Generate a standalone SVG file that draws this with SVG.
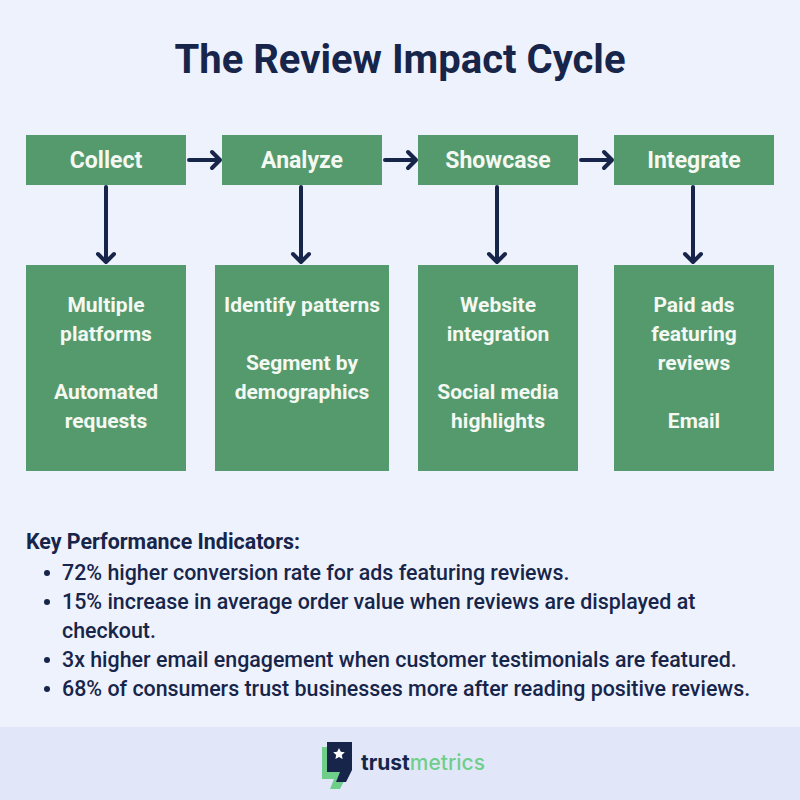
<svg xmlns="http://www.w3.org/2000/svg" width="800" height="800" viewBox="0 0 800 800">
<style>
.box{fill:#559a6c}
.t{font-family:Roboto,"Noto Sans",sans-serif;font-weight:700;fill:#f4f8f2;text-anchor:middle}
.h{font-size:23px}.b{font-size:21px}
.k{font-family:Roboto,"Noto Sans",sans-serif;font-weight:700;font-size:21.4px;fill:#17254a}
.c{stroke:#17254a;stroke-width:4;fill:none;stroke-linecap:round;stroke-linejoin:round}
</style>
<rect width="800" height="800" fill="#eef2fd"/>
<rect y="727" width="800" height="73" fill="#e1e7f8"/>
<text x="400" y="73" font-family="Roboto,'Noto Sans',sans-serif" font-weight="700" font-size="40" fill="#17254a" text-anchor="middle">The Review Impact Cycle</text>
<g id="collect"><rect class="box" x="26" y="135" width="160" height="50"/><text class="t h" x="106" y="168">Collect</text></g>
<g id="analyze"><rect class="box" x="222" y="135" width="160" height="50"/><text class="t h" x="302" y="168">Analyze</text></g>
<g id="showcase"><rect class="box" x="418" y="135" width="160" height="50"/><text class="t h" x="498" y="168">Showcase</text></g>
<g id="integrate"><rect class="box" x="614" y="135" width="160" height="50"/><text class="t h" x="694" y="168">Integrate</text></g>
<g id="d1"><rect class="box" x="26" y="265" width="160" height="206"/><text class="t b" x="106" y="312">Multiple</text><text class="t b" x="106" y="341">platforms</text><text class="t b" x="106" y="399">Automated</text><text class="t b" x="106" y="428">requests</text></g>
<g id="d2"><rect class="box" x="215" y="265" width="174" height="206"/><text class="t b" x="302" y="312">Identify patterns</text><text class="t b" x="302" y="370">Segment by</text><text class="t b" x="302" y="399">demographics</text></g>
<g id="d3"><rect class="box" x="418" y="265" width="160" height="206"/><text class="t b" x="498" y="312">Website</text><text class="t b" x="498" y="341">integration</text><text class="t b" x="498" y="399">Social media</text><text class="t b" x="498" y="428">highlights</text></g>
<g id="d4"><rect class="box" x="614" y="265" width="160" height="206"/><text class="t b" x="694" y="312">Paid ads</text><text class="t b" x="694" y="341">featuring</text><text class="t b" x="694" y="370">reviews</text><text class="t b" x="694" y="428">Email</text></g>
<g id="connectors">
<path class="c" d="M189 160H220M212 152l8 8-8 8"/>
<path class="c" d="M385 160H416M408 152l8 8-8 8"/>
<path class="c" d="M581 160H612M604 152l8 8-8 8"/>
<path class="c" d="M106 187V262M98 254l8 8 8-8"/>
<path class="c" d="M301 187V262M293 254l8 8 8-8"/>
<path class="c" d="M497 187V262M489 254l8 8 8-8"/>
<path class="c" d="M693 187V262M685 254l8 8 8-8"/>
</g>
<g id="kpi" class="k">
<text x="26" y="549">Key Performance Indicators:</text>
<g font-weight="500">
<circle cx="47" cy="573" r="3" fill="#17254a"/><text x="62" y="580">72% higher conversion rate for ads featuring reviews.</text>
<circle cx="47" cy="602" r="3" fill="#17254a"/><text x="62" y="609">15% increase in average order value when reviews are displayed at</text>
<text x="62" y="638">checkout.</text>
<circle cx="47" cy="660" r="3" fill="#17254a"/><text x="62" y="667">3x higher email engagement when customer testimonials are featured.</text>
<circle cx="47" cy="689" r="3" fill="#17254a"/><text x="62" y="696">68% of consumers trust businesses more after reading positive reviews.</text>
</g></g>
<g id="logo">
<path d="M322 747h24v30l-6 12h-10l4-10h-12z" fill="#6fcf8a"/>
<path d="M327 742h25v28l-6 12h-10l4-10h-13z" fill="#17254a"/>
<path d="M339 748l1.8 3.8 4 .5-3 2.8.8 4-3.6-2-3.6 2 .8-4-3-2.8 4-.5z" fill="#fff"/>
<text x="361" y="770" font-family="Inter,'Noto Sans',sans-serif" font-weight="700" font-size="21" fill="#17254a">trust<tspan fill="#6fcf8a" font-weight="500">metrics</tspan></text>
</g>
</svg>
